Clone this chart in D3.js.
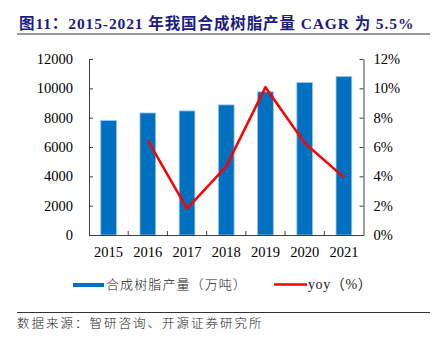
<!DOCTYPE html>
<html>
<head>
<meta charset="utf-8">
<script src="https://cdn.jsdelivr.net/npm/d3@7"></script>
<style>
  body { margin: 0; background: #fff; }
  svg { display: block; }
  .axis text { font-family: "Liberation Serif", "Times New Roman", serif; font-size: 14.5px; fill: #000; }
  .axis .domain, .axis line { stroke: #404040; }
</style>
</head>
<body>
<div id="chart"></div>
<script>
const years = ['2015', '2016', '2017', '2018', '2019', '2020', '2021']
// 合成树脂产量（万吨）
const output = [7800, 8320, 8460, 8870, 9760, 10390, 10800]
// yoy, first year has no value
const yoy = [null, 0.0645, 0.018, 0.0468, 0.1008, 0.0627, 0.0393]
const leftTicks = [0, 2000, 4000, 6000, 8000, 10000, 12000]
const rightTicks = [0, 0.02, 0.04, 0.06, 0.08, 0.10, 0.12]

const title = '图11：2015-2021 年我国合成树脂产量 CAGR 为 5.5%'
const source = '数据来源：智研咨询、开源证券研究所'
const legendBar = '合成树脂产量（万吨）'
const legendLine = 'yoy（%）'

const margin = { top: 59, right: 68.5, bottom: 107, left: 89 }
const W = 432, H = 342

const svg = d3.select('#chart').append('svg')
  .attr('width', W)
  .attr('height', H)

/* Title with grey rule underneath */
svg.append('text')
  .attr('x', 19).attr('y', 29)
  .attr('fill', '#1c1c80')
  .attr('font-family', '"Liberation Serif", "Noto Sans CJK SC", serif')
  .attr('font-weight', 'bold')
  .attr('font-size', 15.5)
  .attr('letter-spacing', 0.9)
  .text(title)
svg.append('line')
  .attr('x1', 17).attr('x2', 430)
  .attr('y1', 34).attr('y2', 34)
  .attr('stroke', '#9a9a9a').attr('stroke-width', 2)

const x = d3.scaleBand()
  .domain(years)
  .range([margin.left, W - margin.right])
  .paddingInner(0.6)
  .paddingOuter(0.3)
const yL = d3.scaleLinear().domain([0, 12000]).range([H - margin.bottom, margin.top])
const yR = d3.scaleLinear().domain([0, 0.12]).range([H - margin.bottom, margin.top])

/* Bars */
svg.append('g').selectAll('rect')
  .data(output)
  .join('rect')
  .attr('x', (d, i) => x(years[i]))
  .attr('y', d => yL(d))
  .attr('width', x.bandwidth())
  .attr('height', d => yL(0) - yL(d))
  .attr('fill', '#0070c0')
  .attr('stroke', '#9cc2e5')
  .attr('stroke-width', 0.8)

/* Axes */
svg.append('g').attr('class', 'axis')
  .attr('transform', `translate(${margin.left},0)`)
  .call(d3.axisLeft(yL).tickValues(leftTicks).tickFormat(d3.format('d')).tickSizeInner(-4).tickSizeOuter(0).tickPadding(16))
svg.append('g').attr('class', 'axis')
  .attr('transform', `translate(${W - margin.right},0)`)
  .call(d3.axisRight(yR).tickValues(rightTicks).tickFormat(d3.format('.0%')).tickSizeInner(-4).tickSizeOuter(0).tickPadding(10))
const axX = svg.append('g').attr('class', 'axis')
  .attr('transform', `translate(0,${yL(0)})`)
  .call(d3.axisBottom(x).tickSize(0).tickPadding(12))

/* category boundary ticks on the x axis */
axX.selectAll('.sep')
  .data(years.slice(1))
  .join('line')
  .attr('class', 'sep')
  .attr('x1', d => x(d) - x.step() * x.paddingInner() / 2)
  .attr('x2', d => x(d) - x.step() * x.paddingInner() / 2)
  .attr('y1', 0).attr('y2', -4)

/* yoy line */
const line = d3.line()
  .defined(d => d != null)
  .x((d, i) => x(years[i]) + x.bandwidth() / 2)
  .y(d => yR(d))
svg.append('path')
  .datum(yoy)
  .attr('d', line)
  .attr('fill', 'none')
  .attr('stroke', '#ff0000')
  .attr('stroke-width', 2.5)
  .attr('stroke-linejoin', 'round')

/* Legend */
const cjk = '"Noto Sans CJK SC", sans-serif'
const lg = svg.append('g')
lg.append('rect')
  .attr('x', 73).attr('y', 283).attr('width', 31).attr('height', 4)
  .attr('fill', '#0070c0')
lg.append('text')
  .attr('x', 106).attr('y', 289)
  .attr('font-family', cjk).attr('font-size', 13).attr('font-weight', 300)
  .attr('letter-spacing', 1.1)
  .attr('fill', '#222')
  .text(legendBar)
lg.append('line')
  .attr('x1', 274).attr('x2', 307).attr('y1', 284.5).attr('y2', 284.5)
  .attr('stroke', '#ff0000').attr('stroke-width', 2.5)
lg.append('text')
  .attr('x', 308).attr('y', 289)
  .attr('font-family', '"Liberation Serif", "Noto Sans CJK SC", serif').attr('font-size', 14)
  .attr('letter-spacing', 0.6)
  .attr('fill', '#222')
  .text(legendLine)

/* Source */
svg.append('line')
  .attr('x1', 17).attr('x2', 430)
  .attr('y1', 312.5).attr('y2', 312.5)
  .attr('stroke', '#333').attr('stroke-width', 1)
svg.append('text')
  .attr('x', 17).attr('y', 328)
  .attr('font-family', cjk).attr('font-size', 12.5).attr('font-weight', 300)
  .attr('letter-spacing', 2)
  .attr('fill', '#222')
  .text(source)
</script>
</body>
</html>
